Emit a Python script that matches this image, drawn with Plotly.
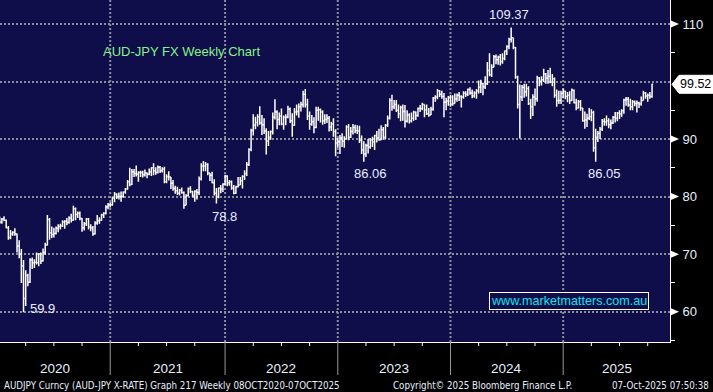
import pandas as pd
import plotly.graph_objects as go

# ---------------- data (weekly AUDJPY bars, week ending Friday) ----------------
first_week = "2020-01-03"
first_open = 76.4

high_2020 = [76.5, 76.3, 76.6, 76.0, 74.9, 74.2, 74.0, 74.5, 73.6, 72.4, 70.9, 69.0, 67.2, 66.6, 69.3, 69.4,
             69.1, 70.3, 70.2, 70.3, 71.0, 72.0, 76.8, 76.3, 74.8, 74.6, 74.8, 75.2, 75.3, 75.9, 75.9, 76.3,
             76.6, 77.0, 78.4, 78.1, 77.4, 77.4, 76.3, 75.6, 76.3, 76.3, 75.2, 74.9, 75.7, 76.8, 76.4, 77.0,
             77.3, 78.5, 78.9, 79.0]
low_2020 = [75.3, 75.3, 75.7, 74.5, 72.5, 72.6, 73.2, 73.2, 70.3, 69.3, 65.0, 59.9, 61.0, 64.4, 65.0, 67.4,
            67.6, 68.2, 67.9, 68.3, 68.7, 69.9, 71.5, 72.5, 72.8, 72.9, 73.4, 73.8, 74.3, 74.7, 74.4, 75.0,
            75.3, 75.5, 75.8, 75.9, 76.3, 75.9, 73.9, 74.1, 74.9, 74.3, 74.0, 73.2, 73.4, 75.1, 75.3, 75.8,
            76.3, 76.9, 77.8, 78.1]
close_2020 = [75.6, 76.1, 75.9, 74.6, 72.9, 73.5, 73.8, 73.5, 71.4, 70.0, 68.0, 62.3, 66.3, 65.1, 69.0, 68.5,
              68.6, 68.5, 70.0, 68.8, 70.3, 71.6, 76.0, 73.7, 73.4, 73.6, 74.5, 74.8, 74.9, 75.6, 75.7, 75.5,
              76.3, 75.9, 77.9, 76.9, 77.1, 76.2, 74.6, 75.3, 76.1, 74.7, 74.6, 73.5, 75.4, 75.8, 75.9, 76.8,
              77.1, 78.2, 78.6, 78.6]

high_2021 = [79.9, 80.8, 80.6, 80.7, 80.9, 80.9, 81.5, 82.9, 85.0, 84.8, 84.8, 85.4, 84.4, 84.5, 84.5, 84.7,
             84.2, 84.9, 85.1, 85.8, 85.1, 85.4, 85.3, 85.1, 85.2, 83.9, 84.4, 83.4, 82.9, 81.9, 81.7, 81.3,
             81.6, 80.9, 80.4, 81.6, 81.8, 81.0, 81.1, 81.3, 83.5, 85.8, 86.2, 86.0, 85.8, 84.0, 84.3, 83.0,
             81.5, 81.6, 82.0, 82.3, 83.8]
low_2021 = [78.4, 79.0, 79.6, 79.5, 79.1, 79.8, 80.5, 81.2, 81.8, 82.0, 83.4, 83.5, 82.6, 83.4, 83.3, 83.5,
            83.2, 83.7, 83.6, 83.7, 83.8, 84.0, 84.1, 84.2, 82.3, 82.3, 82.8, 81.3, 81.0, 80.5, 80.3, 80.2,
            80.5, 77.9, 78.5, 80.0, 80.6, 79.9, 79.1, 79.5, 80.3, 82.8, 84.4, 84.4, 83.7, 82.7, 82.3, 80.2,
            78.8, 79.7, 80.6, 80.8, 82.0]
close_2021 = [79.7, 80.4, 80.0, 80.0, 80.0, 80.8, 81.3, 82.6, 82.1, 84.3, 84.0, 83.9, 84.2, 84.2, 83.8, 84.1,
              83.9, 84.3, 85.0, 84.5, 84.2, 85.1, 84.5, 84.8, 82.6, 83.5, 83.4, 82.3, 81.4, 81.0, 80.6, 81.1,
              80.7, 78.5, 80.2, 81.4, 80.9, 80.2, 80.9, 80.7, 83.1, 85.3, 85.3, 85.6, 84.1, 83.7, 82.4, 80.6,
              80.0, 81.5, 81.3, 82.2, 83.6]

high_2022 = [83.7, 82.9, 82.8, 82.0, 81.9, 83.4, 83.4, 83.7, 84.6, 86.0, 88.4, 91.8, 94.3, 93.9, 94.3, 95.7,
             94.2, 93.6, 91.9, 91.4, 91.5, 94.6, 96.9, 95.0, 94.6, 95.3, 94.1, 94.3, 95.8, 95.5, 94.5, 95.4,
             96.0, 96.2, 96.5, 98.4, 98.7, 97.0, 94.8, 94.2, 93.8, 95.6, 95.6, 95.3, 95.0, 94.3, 94.3, 94.0,
             93.0, 93.6, 91.7, 90.2]
low_2022 = [81.8, 81.9, 81.2, 80.4, 80.5, 81.6, 82.2, 81.4, 82.9, 83.6, 85.3, 87.9, 90.6, 91.7, 92.2, 92.5,
            90.7, 90.9, 87.3, 88.8, 89.9, 90.8, 93.4, 91.7, 92.4, 92.4, 91.6, 92.4, 93.6, 92.8, 90.4, 92.3,
            94.1, 93.7, 94.8, 95.5, 95.5, 93.3, 91.6, 92.3, 91.0, 91.9, 93.2, 92.9, 92.5, 92.6, 92.8, 91.3,
            91.4, 90.4, 87.0, 88.5]
close_2022 = [82.4, 82.6, 81.5, 80.6, 81.7, 82.0, 82.7, 83.5, 84.0, 85.6, 88.2, 91.5, 92.4, 92.9, 93.9, 92.8,
              92.5, 91.4, 89.6, 90.3, 91.3, 93.8, 94.7, 93.4, 94.0, 92.6, 93.8, 93.8, 95.2, 93.2, 92.4, 94.7,
              94.8, 95.6, 96.0, 97.8, 96.0, 94.0, 92.6, 93.0, 92.0, 95.0, 95.1, 94.7, 93.2, 93.4, 93.6, 92.1,
              92.6, 91.3, 89.3, 89.5]

high_2023 = [90.7, 91.0, 90.5, 92.4, 92.6, 92.1, 92.6, 92.5, 92.4, 92.3, 90.6, 89.6, 89.2, 90.0, 90.2, 90.4,
             90.7, 91.4, 91.8, 92.4, 92.1, 92.6, 94.1, 97.1, 97.7, 96.8, 96.8, 96.0, 95.8, 96.0, 95.9, 95.0,
             94.5, 94.6, 94.9, 94.8, 95.5, 95.9, 96.3, 96.0, 96.0, 95.4, 95.6, 97.3, 97.6, 98.7, 98.5, 98.4,
             98.0, 97.2, 97.5, 97.7]
low_2023 = [87.4, 88.6, 88.5, 89.9, 89.8, 90.2, 90.8, 91.0, 90.9, 89.3, 87.4, 86.06, 86.9, 87.5, 88.3, 88.6,
            88.1, 89.4, 89.7, 89.8, 89.9, 90.0, 92.1, 93.4, 94.9, 95.2, 94.7, 93.6, 93.1, 93.2, 92.0, 92.9,
            92.7, 92.9, 93.2, 93.3, 93.9, 94.7, 95.0, 93.8, 94.2, 93.9, 94.2, 94.9, 96.5, 96.9, 97.3, 97.0,
            93.8, 95.0, 95.8, 95.6]
close_2023 = [90.2, 89.6, 90.0, 92.1, 90.3, 91.3, 92.0, 91.5, 91.4, 89.8, 88.1, 87.4, 88.9, 88.6, 89.9, 89.5,
              90.6, 90.2, 89.9, 91.6, 90.3, 92.4, 93.6, 96.7, 95.6, 96.0, 95.0, 94.4, 95.5, 94.8, 93.1, 94.2,
              93.2, 93.6, 94.7, 94.1, 95.3, 95.3, 96.0, 95.1, 94.4, 94.2, 95.2, 97.2, 97.3, 98.4, 97.8, 97.4,
              96.4, 96.6, 97.2, 96.1]

high_2024 = [97.6, 97.9, 97.9, 98.2, 97.6, 98.3, 98.3, 98.8, 99.0, 98.6, 98.3, 98.7, 100.2, 100.3, 99.8, 100.9,
             103.4, 104.9, 103.0, 104.6, 104.7, 104.5, 104.8, 104.9, 105.4, 106.3, 107.6, 109.37, 107.6, 106.0,
             101.0, 99.5, 99.4, 99.6, 99.6, 99.2, 97.0, 97.8, 98.8, 101.0, 100.8, 100.9, 102.2, 101.5, 102.0,
             102.4, 101.3, 100.7, 98.6, 98.4, 98.4, 98.8]
low_2024 = [95.8, 96.2, 96.5, 96.6, 95.5, 97.0, 97.3, 97.5, 97.7, 97.1, 97.2, 97.0, 97.9, 98.0, 97.6, 98.7,
            99.4, 100.9, 100.8, 102.5, 103.0, 102.9, 102.8, 103.1, 103.7, 104.6, 105.6, 106.8, 105.6, 100.5,
            95.3, 90.1, 96.6, 97.2, 97.4, 95.9, 93.5, 94.0, 95.8, 96.5, 99.2, 99.3, 99.9, 99.6, 99.6,
            99.7, 99.2, 97.2, 95.6, 96.1, 96.1, 97.1]
close_2024 = [96.2, 97.0, 97.6, 97.4, 97.3, 98.0, 97.8, 98.6, 98.0, 97.5, 98.0, 98.4, 99.0, 99.6, 99.1, 99.6,
              101.9, 101.2, 102.5, 104.3, 103.8, 104.2, 103.5, 104.0, 105.3, 106.1, 107.3, 107.6, 105.9, 100.8,
              96.0, 97.3, 99.0, 98.2, 98.8, 96.2, 95.6, 97.3, 97.0, 100.6, 100.1, 100.3, 101.3, 100.6, 100.9,
              99.9, 100.5, 97.6, 96.7, 96.7, 97.9, 98.3]

high_2025 = [98.4, 98.2, 98.3, 98.8, 98.6, 97.0, 96.8, 96.8, 95.4, 94.8, 94.4, 95.4, 95.2, 94.9, 91.8, 91.4,
             92.1, 93.5, 93.6, 94.1, 93.6, 93.4, 94.0, 94.7, 94.7, 95.0, 95.2, 97.0, 97.3, 97.3, 97.0, 96.8,
             96.7, 96.7, 96.5, 97.4, 98.4, 98.2, 97.9, 98.2, 99.6]
low_2025 = [96.9, 96.4, 96.1, 96.6, 96.2, 95.0, 95.3, 94.9, 93.0, 91.8, 92.1, 93.3, 93.1, 87.8, 86.05, 89.5,
            90.0, 91.4, 92.3, 92.3, 91.9, 91.7, 92.6, 92.9, 93.1, 93.5, 93.9, 94.4, 95.8, 95.6, 95.0, 95.0,
            95.7, 94.6, 95.4, 95.8, 96.7, 97.0, 96.5, 97.0, 97.2]
close_2025 = [97.4, 97.6, 96.7, 98.5, 96.3, 95.4, 96.5, 95.4, 93.2, 93.3, 93.6, 93.9, 94.6, 88.5, 90.3, 91.0,
              91.7, 93.1, 93.0, 93.2, 92.5, 92.8, 93.8, 93.6, 94.5, 94.4, 94.9, 96.8, 96.9, 95.9, 95.6, 96.5,
              96.2, 96.3, 96.1, 96.7, 98.0, 97.5, 97.6, 97.4, 99.52]

y_major = [60, 70, 80, 90, 100, 110]

title_text = "AUD-JPY FX Weekly Chart"
site_text = "www.marketmatters.com.au"
footer_left = "AUDJPY Curncy (AUD-JPY X-RATE) Graph 217 Weekly 08OCT2020-07OCT2025"
footer_mid = "Copyright\u00a9 2025 Bloomberg Finance L.P."
footer_right = "07-Oct-2025 07:50:38"

# ---------------- assemble ----------------
highs_raw = high_2020 + high_2021 + high_2022 + high_2023 + high_2024 + high_2025
lows_raw = low_2020 + low_2021 + low_2022 + low_2023 + low_2024 + low_2025
closes = close_2020 + close_2021 + close_2022 + close_2023 + close_2024 + close_2025
n = len(closes)
dates = list(pd.date_range(first_week, periods=n, freq="W-FRI"))
opens = [first_open] + closes[:-1]
highs = [max(h, o, c) for h, o, c in zip(highs_raw, opens, closes)]
lows = [min(l, o, c) for l, o, c in zip(lows_raw, opens, closes)]
last = closes[-1]

X_START = pd.Timestamp("2020-01-04")
X_END = pd.Timestamp("2025-12-07")
Y_MIN, Y_MAX = 54.73, 114.17
PLOT_H = 342.0
PLOT_W = 670.0

BG = "#100d4b"
GRID = "#8d8d97"
LABEL = "#e6efff"
FONT = "Liberation Sans, Arial, sans-serif"
NARROW = "Liberation Sans Narrow, DejaVu Sans Condensed, Liberation Sans, sans-serif"

fig = go.Figure(go.Ohlc(
    x=dates, open=opens, high=highs, low=lows, close=closes,
    increasing=dict(line=dict(color="white", width=1.5)),
    decreasing=dict(line=dict(color="white", width=1.5)),
    tickwidth=0.5, hoverinfo="skip", showlegend=False,
))

shapes = []
annotations = []

# year boundaries: last weekly bar of each previous year
years = sorted({d.year for d in dates})
boundaries = [max(d for d in dates if d.year < y) for y in years[1:]]
for b in boundaries:
    shapes.append(dict(type="line", xref="x", yref="paper", x0=b, x1=b, y0=0, y1=1,
                       line=dict(color=GRID, width=2, dash="2px,2px"), layer="below"))
    shapes.append(dict(type="line", xref="x", yref="paper", x0=b, x1=b, y0=0, y1=-33 / PLOT_H,
                       line=dict(color="#9a9a9a", width=1), layer="above"))

# quarter ticks
seg_starts = [boundaries[0] - pd.Timedelta(weeks=52)] + boundaries
for s in seg_starts:
    for k in (1, 2, 3):
        q = s + pd.Timedelta(weeks=13 * k)
        if X_START < q < X_END:
            shapes.append(dict(type="line", xref="x", yref="paper", x0=q, x1=q, y0=0, y1=-4 / PLOT_H,
                               line=dict(color="white", width=1)))

# year labels
edges = [X_START] + boundaries + [X_END]
for i, y in enumerate(years):
    mid = edges[i] + (edges[i + 1] - edges[i]) / 2
    annotations.append(dict(x=mid, y=-26 / PLOT_H, xref="x", yref="paper", text=str(y), showarrow=False,
                            font=dict(family=FONT, size=13.5, color=LABEL), xanchor="center", yanchor="middle"))

# major y labels (the one hidden under the last-price tag is left blank), triangles at major ticks
y_text = ["" if abs(v - last) < 2.5 else str(v) for v in y_major]
for v in y_major:
    if abs(v - last) < 2.5:
        continue
    shapes.append(dict(type="path", xref="paper", yref="y", xsizemode="pixel", ysizemode="pixel",
                       xanchor=1, yanchor=v, path="M 1 3.5 L 9 0 L 1 -3.5 Z",
                       fillcolor="white", line=dict(width=0)))

# last price tag
shapes.append(dict(type="path", xref="paper", yref="y", xsizemode="pixel", ysizemode="pixel",
                   xanchor=1, yanchor=last, path="M 2 0 L 9 9 L 50 9 L 50 -9 L 9 -9 Z",
                   fillcolor="white", line=dict(color="white", width=1)))
annotations.append(dict(x=1 + 8.5 / PLOT_W, y=last, xref="paper", yref="y", text=f"{last:.2f}",
                        showarrow=False, xanchor="left", yanchor="middle", borderpad=0,
                        font=dict(family=FONT, size=12.5, color="black")))


# extreme value labels
def idx_min(lo, a, b):
    sel = [i for i, d in enumerate(dates) if pd.Timestamp(a) <= d <= pd.Timestamp(b)]
    return min(sel, key=lambda i: lo[i])


i_max = max(range(n), key=lambda i: highs[i])
marks = [
    (i_max, highs[i_max], -2, 13),
    (idx_min(lows, "2020-01-01", "2020-12-31"), None, 19, 4),
    (idx_min(lows, "2021-10-01", "2021-12-31"), None, 8, -13),
    (idx_min(lows, "2023-01-01", "2023-12-31"), None, 7, -12),
    (idx_min(lows, "2025-01-01", "2025-12-31"), None, 9, -12),
]
for i, val, dx, dy in marks:
    v = val if val is not None else lows[i]
    annotations.append(dict(x=dates[i], y=v, xref="x", yref="y", text=f"{v:g}", showarrow=False,
                            xshift=dx, yshift=dy, xanchor="center", yanchor="middle",
                            font=dict(family=FONT, size=13, color=LABEL)))

# titles / watermark / footer
annotations.append(dict(x=101 / PLOT_W, y=1 - 51 / PLOT_H, xref="paper", yref="paper", text=title_text,
                        showarrow=False, xanchor="left", yanchor="middle",
                        font=dict(family=FONT, size=13, color="#85f585")))
annotations.append(dict(x=569 / PLOT_W, y=1 - 301 / PLOT_H, xref="paper", yref="paper", text=site_text,
                        showarrow=False, xanchor="center", yanchor="middle",
                        bordercolor="white", borderwidth=1, borderpad=1, bgcolor=BG,
                        font=dict(family=FONT, size=12.6, color="#10e2ee")))
fy = -43.5 / PLOT_H
FOOT = dict(family=NARROW, size=9.7, color=LABEL)
annotations.append(dict(x=2 / PLOT_W, y=fy, xref="paper", yref="paper", text=footer_left, showarrow=False,
                        xanchor="left", yanchor="middle", font=FOOT))
annotations.append(dict(x=391 / PLOT_W, y=fy, xref="paper", yref="paper", text=footer_mid, showarrow=False,
                        xanchor="left", yanchor="middle", font=FOOT))
annotations.append(dict(x=711 / PLOT_W, y=fy, xref="paper", yref="paper", text=footer_right, showarrow=False,
                        xanchor="right", yanchor="middle", font=FOOT))

fig.update_layout(
    width=713, height=392,
    margin=dict(l=0, r=43, t=0, b=50),
    paper_bgcolor="black", plot_bgcolor=BG,
    hovermode=False, showlegend=False,
    shapes=shapes, annotations=annotations,
    xaxis=dict(type="date", range=[X_START, X_END], showgrid=False, showticklabels=False, ticks="",
               showline=True, linecolor="white", linewidth=1, zeroline=False,
               rangeslider=dict(visible=False), fixedrange=True),
    yaxis=dict(side="right", range=[Y_MIN, Y_MAX], tickmode="array", tickvals=y_major,
               ticktext=y_text,
               tickfont=dict(family=FONT, size=13, color=LABEL),
               ticks="outside", ticklen=9, tickcolor="rgba(0,0,0,0)",
               showgrid=True, gridcolor=GRID, gridwidth=2, griddash="2px,2px",
               showline=True, linecolor="white", linewidth=1, zeroline=False,
               minor=dict(tick0=55, dtick=10, ticks="outside", ticklen=4, tickcolor="white", showgrid=False),
               fixedrange=True),
)

fig.write_html(
    "out.html",
    config={"displayModeBar": False},
    post_script="document.body.style.margin='0';document.body.style.overflow='hidden';",
)
